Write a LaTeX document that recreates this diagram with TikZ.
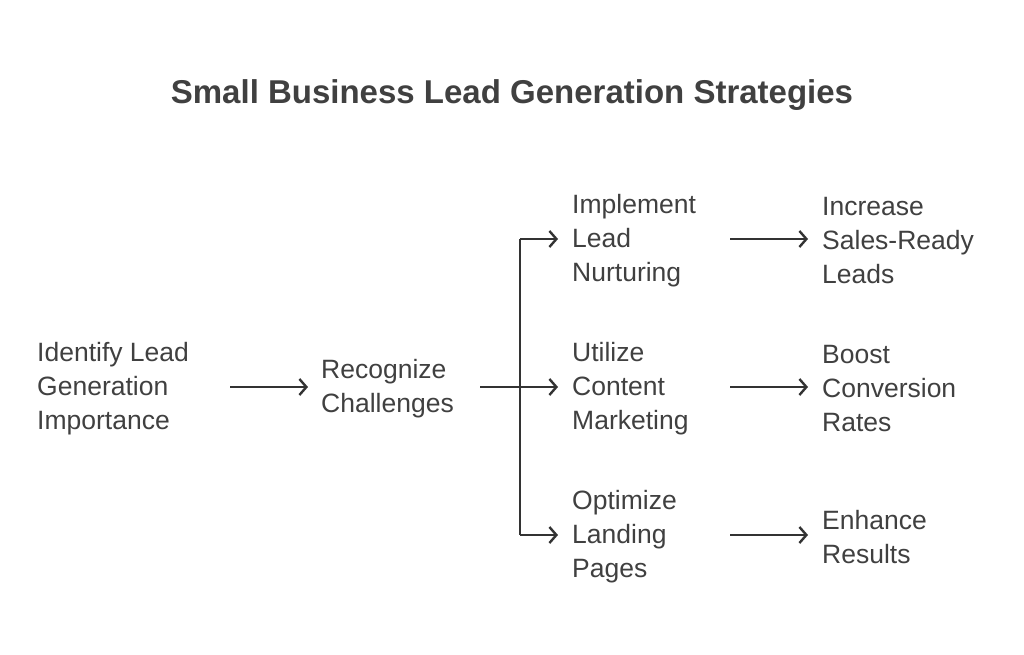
\documentclass[tikz,border=0pt]{standalone}
\usepackage{fontspec}
\setmainfont{Liberation Sans}
\usetikzlibrary{arrows.meta}
\begin{document}
\begin{tikzpicture}[x=1pt,y=-1pt,
  lbl/.style={anchor=west,align=left,inner sep=0pt,text=black!75,font=\fontsize{26.5}{34}\selectfont},
  arr/.style={draw=black!80,line width=2.4pt,-{Straight Barb[length=7pt,width=16pt,line width=2.4pt]}},
  ln/.style={draw=black!80,line width=2.4pt}]
\useasboundingbox (0,0) rectangle (1024,654);
\node[font=\bfseries\fontsize{33}{36}\selectfont,text=black!75] (title) at (512,95) {Small Business Lead Generation Strategies};
\node[lbl] (a) at (37,389) {Identify Lead\\Generation\\Importance};
\node[lbl] (b) at (321,389) {Recognize\\Challenges};
\node[lbl] (c1) at (572,241) {Implement\\Lead\\Nurturing};
\node[lbl] (c2) at (572,389) {Utilize\\Content\\Marketing};
\node[lbl] (c3) at (572,537) {Optimize\\Landing\\Pages};
\node[lbl] (d1) at (822,241) {Increase\\Sales-Ready\\Leads};
\node[lbl] (d2) at (822,389) {Boost\\Conversion\\Rates};
\node[lbl] (d3) at (822,537) {Enhance\\Results};
\coordinate (j) at (520,387);
\draw[arr] ([shift={(193pt,2pt)}]a.west) -- ([shift={(-13pt,2pt)}]b.west);
\draw[ln] ([shift={(159pt,2pt)}]b.west) -- (j);
\draw[ln] ([yshift=2pt]j |- c1.west) -- ([yshift=2pt]j |- c3.west);
\foreach \n in {c1,c2,c3}{\draw[arr] ([yshift=2pt]j |- \n.west) -- ([shift={(-14pt,2pt)}]\n.west);}
\foreach \s/\t in {c1/d1,c2/d2,c3/d3}{\draw[arr] ([shift={(158pt,2pt)}]\s.west) -- ([shift={(-14pt,2pt)}]\t.west);}
\end{tikzpicture}
\end{document}
